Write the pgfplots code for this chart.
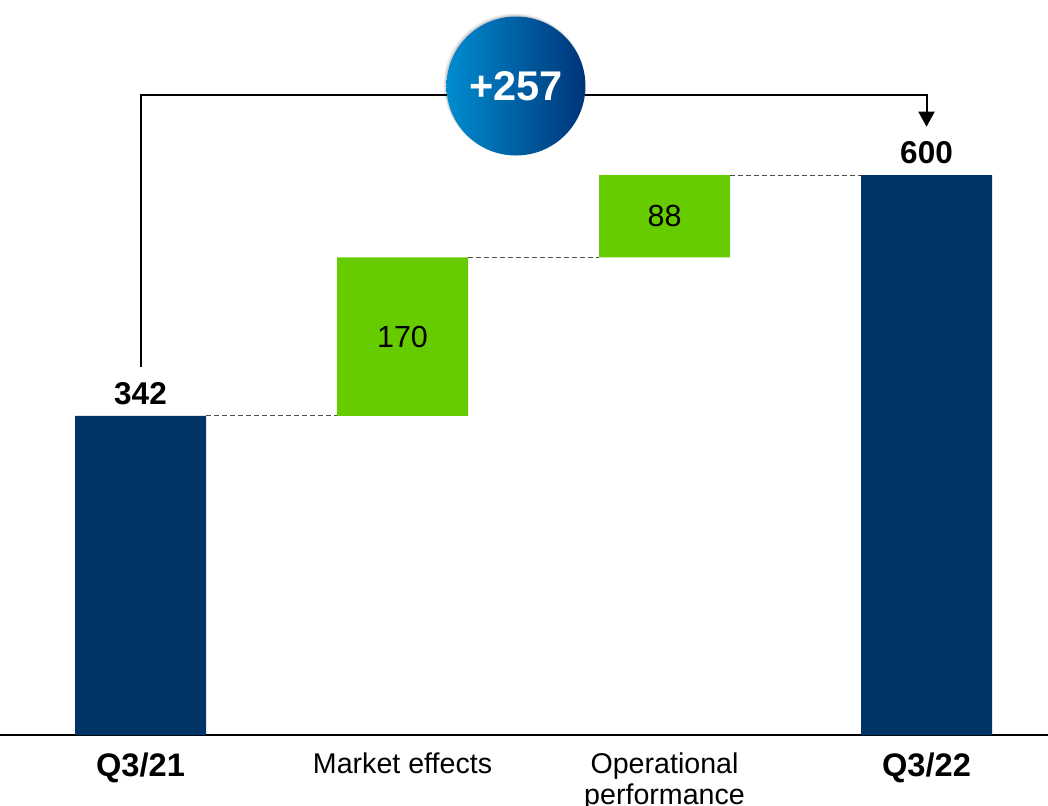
\documentclass[border=0pt]{standalone}
\usepackage{pgfplots}
\pgfplotsset{compat=1.18}
\usepackage{fontspec}
\setmainfont{Liberation Sans}
\usetikzlibrary{arrows.meta,shadows}
\definecolor{navy}{RGB}{0,51,102}
\definecolor{wgreen}{RGB}{102,204,0}
\definecolor{bubL}{RGB}{0,140,208}
\definecolor{bubM}{RGB}{0,96,176}
\definecolor{bubR}{RGB}{0,52,120}
\pgfplotsset{common/.style={scale only axis, width=524pt, height=367.5pt,
  xmin=-0.5363, xmax=3.4637, ymin=0, ymax=787.8, clip=false}}
\begin{document}
\begin{tikzpicture}
\begin{axis}[common, ybar stacked, bar width=0.5,
  axis y line=none, axis x line*=bottom,
  x axis line style={line width=0.8pt,-},
  xtick={0,1,2,3}, major tick length=0pt,
  xticklabels={{\fontsize{16.3}{18}\selectfont\bfseries Q3/21},{Market effects},{Operational\\performance},{\fontsize{16.3}{18}\selectfont\bfseries Q3/22}},
  xticklabel style={anchor=north, inner sep=0pt, yshift=-8.5pt, align=center, font=\fontsize{14.3}{15.5}\selectfont},
]
\addplot[draw=none, fill=none, forget plot] coordinates {(0,0) (1,342) (2,512) (3,0)};
\addplot[draw=none, fill=navy] coordinates {(0,342) (1,0) (2,0) (3,600)};
\addplot[draw=none, fill=wgreen] coordinates {(0,0) (1,170) (2,88) (3,0)};
\end{axis}
\begin{axis}[common, hide axis]
\addplot[gray!60!black, line width=0.5pt, dash pattern=on 2.5pt off 1.5pt] coordinates {(0.25,342) (0.75,342)};
\addplot[gray!60!black, line width=0.5pt, dash pattern=on 2.5pt off 1.5pt] coordinates {(1.25,512) (1.75,512)};
\addplot[gray!60!black, line width=0.5pt, dash pattern=on 2.5pt off 1.5pt] coordinates {(2.25,600) (2.75,600)};
\node[anchor=base, font=\fontsize{15.75}{18}\selectfont\bfseries] at (axis cs:0,342) [yshift=5.5pt] {342};
\node[anchor=base, font=\fontsize{15.75}{18}\selectfont\bfseries] at (axis cs:3,600) [yshift=6pt] {600};
\node[font=\fontsize{15.25}{18}\selectfont] at (axis cs:1,427) {170};
\node[font=\fontsize{15.25}{18}\selectfont] at (axis cs:2,556) {88};
\draw[line width=1pt, -{Triangle[width=8pt,length=7.5pt]}] (axis cs:0,394.4) -- (axis cs:0,686) -- (axis cs:3,686) -- (axis cs:3,652);
\node[circle, minimum size=70.5pt, inner sep=0pt, fill=black, opacity=0.08] at (axis cs:1.427,697.5) {};
\node[circle, minimum size=70pt, inner sep=0pt, fill=black, opacity=0.12] at (axis cs:1.430,696.6) {};
\node[circle, minimum size=69.5pt, inner sep=0pt, shading=axis, left color=bubL, middle color=bubM, right color=bubR, shading angle=90,
  text=white, font=\fontsize{20.75}{24}\selectfont\bfseries] at (axis cs:1.433,695.6) {+257};
\end{axis}
\pgfresetboundingbox
\path ([yshift=-35pt]current axis.south west) rectangle (current axis.north east);
\end{tikzpicture}
\end{document}
